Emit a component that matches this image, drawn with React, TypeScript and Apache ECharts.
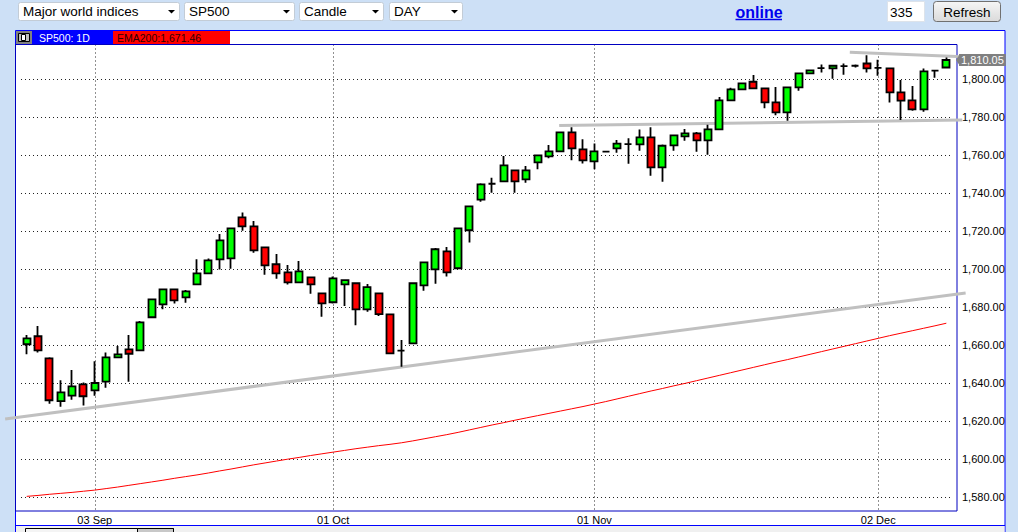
import React, { useEffect, useRef } from 'react';
import * as echarts from 'echarts';

// ---- data ----
const xTickIndex = [6, 27, 50, 75];
const xTickLabels = ['03 Sep', '01 Oct', '01 Nov', '02 Dec'];
const yTickValues = [1580, 1600, 1620, 1640, 1660, 1680, 1700, 1720, 1740, 1760, 1780, 1800];

const openP = [1660.4, 1664.6, 1653.0, 1630.4, 1633.3, 1639.3, 1636.1, 1640.7, 1653.5, 1657.7,
  1657.2, 1674.6, 1681.4, 1689.3, 1685.1, 1691.9, 1697.7, 1705.1, 1705.6, 1727.2,
  1722.5, 1711.4, 1702.5, 1698.2, 1693.0, 1695.6, 1687.2, 1682.5, 1691.9, 1692.5,
  1678.8, 1687.2, 1676.1, 1657.0, 1660.9, 1691.4, 1699.8, 1709.3, 1700.4, 1720.4,
  1736.5, 1744.9, 1746.1, 1751.9, 1747.2, 1756.1, 1759.3, 1761.9, 1771.9, 1763.0,
  1756.7, 1761.8, 1763.5, 1765.8, 1765.6, 1769.3, 1753.5, 1765.1, 1769.8, 1771.4,
  1767.7, 1773.5, 1788.8, 1794.6, 1798.6, 1795.1, 1787.7, 1782.5, 1795.6, 1803.0,
  1805.8, 1805.6, 1806.8, 1807.0, 1808.2, 1805.9, 1805.6, 1793.0, 1788.8, 1784.0,
  1804.4, 1806.1];
const closeP = [1663.5, 1657.2, 1630.9, 1635.1, 1638.2, 1633.0, 1640.0, 1653.5, 1655.1, 1655.4,
  1671.9, 1684.0, 1689.3, 1683.5, 1688.2, 1697.7, 1704.6, 1715.1, 1721.4, 1722.5,
  1709.8, 1701.9, 1697.7, 1693.0, 1698.8, 1691.9, 1681.9, 1695.1, 1694.1, 1678.8,
  1690.5, 1676.3, 1655.6, 1657.0, 1692.5, 1703.5, 1710.4, 1698.2, 1721.4, 1733.0,
  1744.6, 1744.9, 1754.6, 1746.1, 1751.9, 1759.8, 1761.9, 1771.9, 1763.5, 1757.2,
  1761.9, 1761.8, 1766.0, 1765.8, 1769.3, 1753.5, 1764.9, 1770.4, 1771.4, 1767.7,
  1773.5, 1788.8, 1794.6, 1797.7, 1795.1, 1787.7, 1782.5, 1795.6, 1803.0, 1804.6,
  1805.8, 1807.0, 1806.8, 1807.0, 1805.6, 1805.9, 1793.0, 1788.6, 1784.0, 1804.0,
  1804.4, 1810.05];
const highP = [1665.3, 1670.0, 1653.5, 1641.4, 1646.8, 1640.2, 1651.4, 1656.1, 1659.5, 1665.3,
  1672.6, 1684.2, 1689.5, 1689.8, 1688.9, 1705.1, 1705.6, 1718.4, 1721.9, 1729.8,
  1725.3, 1711.6, 1707.9, 1702.1, 1704.2, 1695.8, 1687.4, 1696.0, 1694.3, 1692.7,
  1692.1, 1687.4, 1676.3, 1662.6, 1692.7, 1703.7, 1711.1, 1711.6, 1721.8, 1733.4,
  1745.1, 1748.1, 1759.5, 1752.1, 1754.2, 1759.9, 1765.3, 1772.1, 1774.6, 1768.3,
  1766.1, 1761.8, 1767.9, 1768.8, 1773.5, 1774.6, 1765.6, 1770.6, 1773.7, 1772.1,
  1776.0, 1790.5, 1795.4, 1797.9, 1802.1, 1795.3, 1795.8, 1796.1, 1803.2, 1804.8,
  1807.7, 1807.2, 1808.2, 1807.7, 1812.6, 1810.2, 1805.8, 1799.5, 1796.3, 1805.6,
  1804.5, 1811.4];
const lowP = [1655.1, 1656.0, 1629.1, 1627.5, 1631.2, 1628.1, 1633.3, 1637.5, 1653.3, 1640.7,
  1657.2, 1674.6, 1678.8, 1681.8, 1682.3, 1691.9, 1697.7, 1699.8, 1700.2, 1720.2,
  1708.6, 1697.0, 1694.9, 1691.8, 1693.0, 1687.0, 1674.9, 1681.9, 1680.5, 1670.4,
  1677.5, 1675.3, 1655.1, 1648.6, 1660.6, 1688.6, 1692.3, 1696.0, 1700.2, 1713.9,
  1735.4, 1740.2, 1746.1, 1740.2, 1745.4, 1752.5, 1758.3, 1761.9, 1757.2, 1755.6,
  1752.5, 1761.8, 1761.2, 1755.4, 1762.3, 1749.1, 1746.0, 1762.3, 1767.5, 1761.8,
  1760.2, 1773.5, 1788.8, 1794.6, 1795.1, 1784.6, 1780.9, 1778.1, 1793.9, 1802.9,
  1803.5, 1800.2, 1802.3, 1806.1, 1803.5, 1801.8, 1787.7, 1778.4, 1783.3, 1782.8,
  1800.7, 1806.0];
const ema200 = [1580.3, 1580.8, 1581.4, 1581.9, 1582.4, 1583.0, 1583.6, 1584.4, 1585.2, 1586.1,
  1587.0, 1587.9, 1588.8, 1589.8, 1590.7, 1591.6, 1592.6, 1593.7, 1594.7, 1595.8,
  1596.9, 1597.9, 1598.9, 1599.9, 1600.8, 1601.8, 1602.7, 1603.6, 1604.5, 1605.4,
  1606.2, 1607.0, 1607.7, 1608.5, 1609.5, 1610.6, 1611.7, 1612.8, 1614.0, 1615.3,
  1616.6, 1617.9, 1619.1, 1620.4, 1621.6, 1622.8, 1624.0, 1625.2, 1626.4, 1627.6,
  1628.9, 1630.2, 1631.6, 1633.0, 1634.4, 1635.8, 1637.1, 1638.5, 1639.8, 1641.2,
  1642.6, 1644.0, 1645.4, 1646.8, 1648.2, 1649.6, 1651.0, 1652.3, 1653.7, 1655.1,
  1656.5, 1657.9, 1659.3, 1660.7, 1662.1, 1663.5, 1664.9, 1666.2, 1667.5, 1668.8,
  1670.1, 1671.46];
// user-drawn trend lines: [startBar, startPrice, endBar, endPrice]
const supportLine = [-1.9, 1621.0, 82.7, 1687.4];
const lowerResistance = [46.9, 1775.5, 82.4, 1778.4];
const upperResistance = [72.5, 1814.1, 82.5, 1811.8];

const selectBoxes = [
  { label: 'Major world indices', x: 18, w: 161 },
  { label: 'SP500', x: 184, w: 110 },
  { label: 'Candle', x: 299, w: 84 },
  { label: 'DAY', x: 389, w: 73 },
];

const FONT = '"Liberation Sans", Arial, sans-serif';
const fmt = (v: number) => v.toFixed(2).replace(/\B(?=(\d{3})+(?!\d))/g, ',');

export default function App() {
  const ref = useRef<HTMLDivElement>(null);
  useEffect(() => {
    if (!ref.current) return;
    const chart = echarts.init(ref.current, undefined, { renderer: 'svg' });
    const candleData = openP.map((o, i) => [i, o, closeP[i], lowP[i], highP[i]]);
    const emaData = ema200.map((v, i) => [i, v]);
    const lastIdx = closeP.length - 1;
    const lastClose = closeP[lastIdx];
    const lastEma = ema200[ema200.length - 1];

    const toolbar: any[] = [];
    selectBoxes.forEach((b) => {
      const cx = b.x + b.w - 7.5;
      toolbar.push(
        { type: 'rect', z: -5, shape: { x: b.x + 0.5, y: 2.5, width: b.w, height: 18, r: 2 }, style: { fill: '#fff', stroke: '#c3ccd6', lineWidth: 1 } },
        { type: 'text', z: -4, x: b.x + 5, y: 11.5, style: { text: b.label, fill: '#000', font: `13.5px ${FONT}`, verticalAlign: 'middle', align: 'left' } },
        { type: 'polygon', z: -4, shape: { points: [[cx - 3.5, 10], [cx + 3.5, 10], [cx, 13.5]] }, style: { fill: '#000' } },
      );
    });

    const graphics: any[] = [
      // outer white panel
      { type: 'rect', z: -10, shape: { x: 15.5, y: 30.5, width: 989.5, height: 510 }, style: { fill: '#fff', stroke: '#0000ff', lineWidth: 1 } },
      { type: 'rect', z: -9, shape: { x: 16, y: 526, width: 988.5, height: 10 }, style: { fill: '#f0f0f0' } },
      { type: 'line', z: -8, shape: { x1: 15.5, y1: 525.5, x2: 1005, y2: 525.5 }, style: { stroke: '#0000ff', lineWidth: 1 } },
      { type: 'rect', z: -8, shape: { x: 25.5, y: 528.5, width: 148, height: 8 }, style: { fill: '#f4f4f4', stroke: '#000', lineWidth: 1 } },
      { type: 'rect', z: -7, shape: { x: 137.5, y: 528.5, width: 36, height: 8 }, style: { fill: '#c8c8c8', stroke: '#000', lineWidth: 1 } },
      // plot frame
      { type: 'rect', z: 1, shape: { x: 15.5, y: 44.5, width: 941.5, height: 466.5 }, style: { fill: 'none', stroke: '#0000c0', lineWidth: 1 } },
      // legend strip
      { type: 'rect', z: -6, shape: { x: 16, y: 31, width: 16, height: 13 }, style: { fill: '#808080' } },
      { type: 'rect', z: -5, shape: { x: 18.5, y: 33.5, width: 11, height: 8 }, style: { fill: '#c0c0c0', stroke: '#000', lineWidth: 1 } },
      { type: 'rect', z: -4, shape: { x: 21.5, y: 34.5, width: 4, height: 6 }, style: { fill: '#fff', stroke: '#000', lineWidth: 1 } },
      { type: 'rect', z: -6, shape: { x: 32, y: 31, width: 81, height: 13 }, style: { fill: '#0000ff' } },
      { type: 'text', z: -5, x: 39, y: 38, style: { text: 'SP500: 1D', fill: '#fff', font: `10.5px ${FONT}`, verticalAlign: 'middle' } },
      { type: 'rect', z: -6, shape: { x: 113, y: 31, width: 117, height: 13 }, style: { fill: '#ff0000' } },
      { type: 'text', z: -5, x: 117, y: 38, style: { text: 'EMA200:' + fmt(lastEma), fill: '#300000', font: `10.5px ${FONT}`, verticalAlign: 'middle' } },
      // toolbar right side
      { type: 'text', z: -5, x: 735.5, y: 12, style: { text: 'online', fill: '#0000ee', font: `bold 16px ${FONT}`, verticalAlign: 'middle' } },
      { type: 'line', z: -5, shape: { x1: 735.5, y1: 19.5, x2: 782, y2: 19.5 }, style: { stroke: '#0000ee', lineWidth: 1.5 } },
      { type: 'rect', z: -5, shape: { x: 887.5, y: 1.5, width: 37, height: 20 }, style: { fill: '#fff', stroke: '#dde3ea', lineWidth: 1 } },
      { type: 'text', z: -4, x: 890, y: 12, style: { text: '335', fill: '#000', font: `13.5px ${FONT}`, verticalAlign: 'middle' } },
      {
        type: 'rect', z: -5, shape: { x: 933.5, y: 1.5, width: 67, height: 20, r: 3 },
        style: {
          fill: new echarts.graphic.LinearGradient(0, 0, 0, 1, [{ offset: 0, color: '#f6f6f6' }, { offset: 1, color: '#dadada' }]),
          stroke: '#707070', lineWidth: 1,
        },
      },
      { type: 'text', z: -4, x: 967, y: 12, style: { text: 'Refresh', fill: '#000', font: `13.5px ${FONT}`, verticalAlign: 'middle', align: 'center' } },
      ...toolbar,
    ];

    chart.setOption({
      animation: false,
      backgroundColor: '#cde0f6',
      textStyle: { fontFamily: FONT },
      graphic: graphics,
      grid: { left: 21, top: 44.5, width: 931, height: 466.5, containLabel: false },
      xAxis: {
        type: 'value', min: -0.5, max: 81.5,
        axisLine: { show: false },
        axisTick: { show: false, customValues: xTickIndex },
        axisLabel: {
          customValues: xTickIndex,
          formatter: (v: number) => xTickLabels[xTickIndex.indexOf(Math.round(v))] || '',
          color: '#000', fontSize: 11, margin: 3, fontFamily: FONT,
        },
        splitLine: { show: true, lineStyle: { type: [1, 3], color: '#222', width: 1 } },
      },
      yAxis: {
        type: 'value', position: 'right', min: 1572.6, max: 1818.2, scale: true,
        axisLine: { show: false },
        axisTick: { show: false, customValues: yTickValues },
        axisLabel: { customValues: yTickValues, formatter: (v: number) => fmt(v), color: '#000', fontSize: 11, margin: 10, fontFamily: FONT },
        splitLine: { show: true, lineStyle: { type: [1, 3], color: '#222', width: 1 } },
      },
      series: [
        {
          type: 'custom', name: 'trend lines', clip: false, silent: true, z: 3,
          data: [supportLine, lowerResistance, upperResistance],
          encode: { x: [0, 2], y: [1, 3] },
          renderItem: (params: any, api: any) => {
            const p1 = api.coord([api.value(0), api.value(1)]);
            const p2 = api.coord([api.value(2), api.value(3)]);
            return {
              type: 'line',
              shape: { x1: p1[0], y1: p1[1], x2: p2[0], y2: p2[1] },
              style: { stroke: '#c0c0c0', lineWidth: 3 },
            };
          },
        },
        {
          type: 'line', name: 'EMA200', data: emaData, symbol: 'none', silent: true, z: 4,
          lineStyle: { color: '#ff0000', width: 1 },
        },
        {
          type: 'candlestick', name: 'SP500', data: candleData, z: 5, barWidth: 7.5, silent: true,
          itemStyle: {
            color: '#00ff00', color0: '#ff0000',
            borderColor: '#000', borderColor0: '#000', borderColorDoji: '#000', borderWidth: 1.8,
          },
        },
        {
          type: 'custom', name: 'last price', clip: false, silent: true, z: 6,
          data: [[lastIdx, lastClose]],
          encode: { x: 0, y: 1 },
          renderItem: (params: any, api: any) => {
            const p = api.coord([api.value(0), api.value(1)]);
            const x0 = params.coordSys.x + params.coordSys.width + 7;
            const y = p[1];
            return {
              type: 'group',
              children: [
                { type: 'polygon', shape: { points: [[x0 - 3, y], [x0 + 1, y - 6], [x0 + 1, y + 6]] }, style: { fill: '#808080' } },
                {
                  type: 'text', x: x0, y,
                  style: {
                    text: fmt(api.value(1)), fill: '#fff', backgroundColor: '#808080',
                    padding: [1, 2, 0, 2], font: `11px ${FONT}`, verticalAlign: 'middle', align: 'left',
                  },
                },
              ],
            };
          },
        },
      ],
    });
    return () => chart.dispose();
  }, []);
  return <div ref={ref} style={{ position: 'fixed', left: 0, top: 0, width: 1018, height: 532 }} />;
}
